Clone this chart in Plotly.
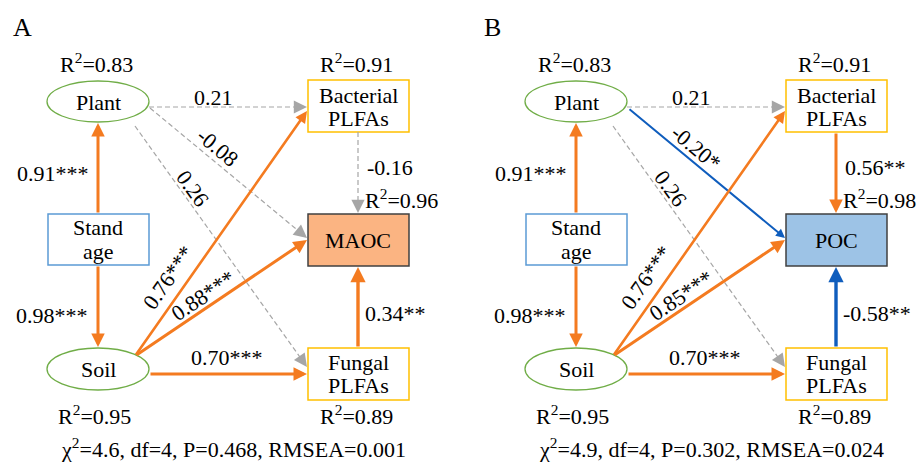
import math
import plotly.graph_objects as go

# ---------------- data ----------------
panel_labels = ["A", "B"]
response_names = ["MAOC", "POC"]
r2_plant = ["0.83", "0.83"]
r2_bacterial = ["0.91", "0.91"]
r2_response = ["0.96", "0.98"]
r2_soil = ["0.95", "0.95"]
r2_fungal = ["0.89", "0.89"]
coef_age_plant = ["0.91***", "0.91***"]
coef_age_soil = ["0.98***", "0.98***"]
coef_plant_bact = ["0.21", "0.21"]
coef_plant_resp = ["-0.08", "-0.20*"]
coef_plant_fung = ["0.26", "0.26"]
coef_soil_bact = ["0.76***", "0.76***"]
coef_soil_resp = ["0.88***", "0.85***"]
coef_soil_fung = ["0.70***", "0.70***"]
coef_bact_resp = ["-0.16", "0.56**"]
coef_fung_resp = ["0.34**", "-0.58**"]
fit_chi2 = ["4.6", "4.9"]
fit_df = ["4", "4"]
fit_p = ["0.468", "0.302"]
fit_rmsea = ["0.001", "0.024"]

# ---------------- styles ----------------
FONT = "'Liberation Serif', 'Times New Roman', serif"
FS = 22
ORANGE = "#F47B20"
BLUE = "#0F5DBD"
GRAY = "#A6A6A6"
GREEN = "#70AD47"
GOLD = "#FFC000"
SKY = "#5B9BD5"
resp_fill = ["#FBB482", "#9DC3E6"]

offsets = [0, 478]

shapes = []
annotations = []


def text(x, y, s, size=FS, angle=0, xanchor="center", color="black"):
    annotations.append(dict(x=x, y=y, xref="x", yref="y", text=s, showarrow=False,
                            xanchor=xanchor, yanchor="middle", textangle=angle,
                            font=dict(family=FONT, size=size, color=color)))


def arrow(x0, y0, x1, y1, color, width, dashed=False, hs=1.0):
    if dashed:
        L = math.hypot(x1 - x0, y1 - y0)
        ux, uy = (x1 - x0) / L, (y1 - y0) / L
        shapes.append(dict(type="line", xref="x", yref="y", x0=x0, y0=y0,
                           x1=x1 - ux * 6, y1=y1 - uy * 6,
                           line=dict(color=color, width=width, dash="5px,3px")))
        annotations.append(dict(x=x1, y=y1, ax=x1 - ux * 9, ay=y1 - uy * 9,
                                xref="x", yref="y", axref="x", ayref="y", text="",
                                showarrow=True, arrowhead=2, arrowsize=hs,
                                arrowwidth=width, arrowcolor=color))
    else:
        annotations.append(dict(x=x1, y=y1, ax=x0, ay=y0,
                                xref="x", yref="y", axref="x", ayref="y", text="",
                                showarrow=True, arrowhead=2, arrowsize=hs,
                                arrowwidth=width, arrowcolor=color))


def style(coef, thick=3.0):
    sig = "*" in coef
    if not sig:
        return dict(color=GRAY, width=1.2, dashed=True, hs=2.2)
    if coef.startswith("-"):
        return dict(color=BLUE, width=thick, dashed=False, hs=0.9)
    return dict(color=ORANGE, width=thick, dashed=False, hs=0.9)


for i in range(2):
    o = offsets[i]
    # panel label
    text(22 + o - (8 if i else 0), 27, panel_labels[i], size=26)

    # nodes
    shapes.append(dict(type="circle", xref="x", yref="y", x0=47 + o, x1=149 + o, y0=81, y1=122,
                       line=dict(color=GREEN, width=1.3), fillcolor="white", layer="above"))
    shapes.append(dict(type="circle", xref="x", yref="y", x0=47 + o, x1=149 + o, y0=348, y1=390,
                       line=dict(color=GREEN, width=1.3), fillcolor="white", layer="above"))
    shapes.append(dict(type="rect", xref="x", yref="y", x0=48 + o, x1=149 + o, y0=214, y1=265,
                       line=dict(color=SKY, width=1.5), fillcolor="white", layer="above"))
    shapes.append(dict(type="rect", xref="x", yref="y", x0=308 + o, x1=409 + o, y0=80, y1=132,
                       line=dict(color=GOLD, width=1.5), fillcolor="white", layer="above"))
    shapes.append(dict(type="rect", xref="x", yref="y", x0=308 + o, x1=409 + o, y0=348, y1=400,
                       line=dict(color=GOLD, width=1.5), fillcolor="white", layer="above"))
    shapes.append(dict(type="rect", xref="x", yref="y", x0=308 + o, x1=409 + o, y0=214, y1=266,
                       line=dict(color="#404040", width=1.5), fillcolor=resp_fill[i], layer="above"))

    text(98 + o, 102, "Plant")
    text(98 + o, 369, "Soil")
    text(98 + o, 227, "Stand")
    text(98 + o, 251, "age")
    text(358 + o, 95, "Bacterial")
    text(358 + o, 118, "PLFAs")
    text(358 + o, 362, "Fungal")
    text(358 + o, 385, "PLFAs")
    text(358 + o, 240, response_names[i])

    # R2 labels
    text(96 + o, 63, "R<sup>2</sup>=" + r2_plant[i])
    text(356 + o, 63, "R<sup>2</sup>=" + r2_bacterial[i])
    text(363 + o, 199, "R<sup>2</sup>=" + r2_response[i], xanchor="left")
    text(94 + o, 415, "R<sup>2</sup>=" + r2_soil[i])
    text(356 + o, 415, "R<sup>2</sup>=" + r2_fungal[i])

    # paths
    s = style(coef_age_plant[i]); arrow(98 + o, 214, 98 + o, 123, **s)
    s = style(coef_age_soil[i]); arrow(98 + o, 265, 98 + o, 347, **s)
    s = style(coef_plant_bact[i]); arrow(149 + o, 107, 307 + o, 107, **s)
    s = style(coef_plant_resp[i], thick=2.0); arrow(150 + o, 108, 307 + o, 238, **s)
    s = style(coef_plant_fung[i]); arrow(135 + o, 126, 307 + o, 367, **s)
    s = style(coef_soil_bact[i], thick=2.6); arrow(135 + o, 356, 307 + o, 111, **s)
    s = style(coef_soil_resp[i]); arrow(135 + o, 356, 307 + o, 240, **s)
    s = style(coef_soil_fung[i]); arrow(149 + o, 374, 307 + o, 374, **s)
    s = style(coef_bact_resp[i]); arrow(358 + o, 132, 358 + o, 213, **s)
    s = style(coef_fung_resp[i], thick=3.4); arrow(358 + o, 348, 358 + o, 267, **s)

    # coefficient labels
    text(53 + o, 173, coef_age_plant[i])
    text(52 + o, 315, coef_age_soil[i])
    text(213 + o, 97, coef_plant_bact[i])
    text(218 + o, 147, coef_plant_resp[i], angle=40)
    text(193 + o, 188, coef_plant_fung[i], angle=54)
    text(168 + o, 277, coef_soil_bact[i], angle=-55)
    text(203 + o, 295, coef_soil_resp[i], angle=-34)
    text(227 + o, 357, coef_soil_fung[i])
    text(365 + o, 167, coef_bact_resp[i], xanchor="left")
    text(363 + o, 313, coef_fung_resp[i], xanchor="left")

    # fit statistics
    text(233 + o, 448, "\u03c7<sup>2</sup>=" + fit_chi2[i] + ", df=" + fit_df[i] + ", P=" + fit_p[i]
         + ", RMSEA=" + fit_rmsea[i])

fig = go.Figure()
fig.update_layout(
    width=920, height=462, margin=dict(l=0, r=0, t=0, b=0),
    paper_bgcolor="white", plot_bgcolor="white",
    font=dict(family=FONT, size=FS, color="black"),
    xaxis=dict(range=[0, 920], visible=False, fixedrange=True),
    yaxis=dict(range=[462, 0], visible=False, fixedrange=True),
    shapes=shapes, annotations=annotations, showlegend=False,
)
fig.write_html("out.html")
